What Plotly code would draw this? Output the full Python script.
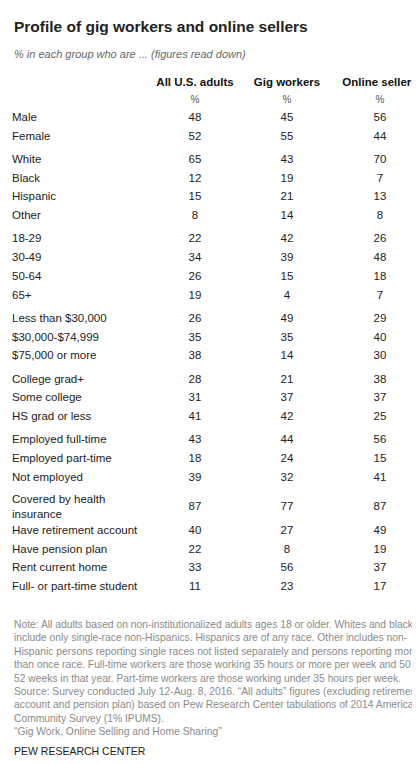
import plotly.graph_objects as go

labels = ["Male", "Female", "White", "Black", "Hispanic", "Other", "18-29", "30-49", "50-64", "65+",
          "Less than $30,000", "$30,000-$74,999", "$75,000 or more",
          "College grad+", "Some college", "HS grad or less",
          "Employed full-time", "Employed part-time", "Not employed",
          "Covered by health<br>insurance", "Have retirement account", "Have pension plan",
          "Rent current home", "Full- or part-time student"]
groups = [0, 0, 1, 1, 1, 1, 2, 2, 2, 2, 3, 3, 3, 4, 4, 4, 5, 5, 5, 6, 6, 6, 6, 6]
all_adults = [48, 52, 65, 12, 15, 8, 22, 34, 26, 19, 26, 35, 38, 28, 31, 41, 43, 18, 39, 87, 40, 22, 33, 11]
gig_workers = [45, 55, 43, 19, 21, 14, 42, 39, 15, 4, 49, 35, 14, 21, 37, 42, 44, 24, 32, 77, 27, 8, 56, 23]
online_sellers = [56, 44, 70, 7, 13, 8, 26, 48, 18, 7, 29, 40, 30, 38, 37, 25, 56, 15, 41, 87, 49, 19, 37, 17]
columns = ["All U.S. adults", "Gig workers", "Online sellers"]

FONT = "Liberation Sans, Arial, sans-serif"
# row layout
ys = []
y = 110.0
for i, g in enumerate(groups):
    if i > 0:
        y += 18.75
        if g != groups[i - 1]:
            y += 4.5
    if "<br>" in labels[i]:
        y += 6
    ys.append(y)
    if "<br>" in labels[i]:
        y += 5

col_x = [187, 279, 372]
fig = go.Figure()
fig.add_trace(go.Scatter(x=[4] * len(labels), y=ys, mode="text", text=labels, textposition="middle right",
                         textfont=dict(family=FONT, size=11.5, color="#222"), hoverinfo="skip", cliponaxis=False))
for cx, vals in zip(col_x, [all_adults, gig_workers, online_sellers]):
    fig.add_trace(go.Scatter(x=[cx] * len(vals), y=ys, mode="text", text=[str(v) for v in vals],
                             textposition="middle center", textfont=dict(family=FONT, size=11.5, color="#222"),
                             hoverinfo="skip", cliponaxis=False))
fig.add_trace(go.Scatter(x=col_x, y=[75] * 3, mode="text", text=["<b>%s</b>" % c for c in columns],
                         textposition="middle center", textfont=dict(family=FONT, size=11.5, color="#111"),
                         hoverinfo="skip", cliponaxis=False))
fig.add_trace(go.Scatter(x=col_x, y=[92] * 3, mode="text", text=["%"] * 3,
                         textposition="middle center", textfont=dict(family=FONT, size=10, color="#555"),
                         hoverinfo="skip", cliponaxis=False))

note = ("Note: All adults based on non-institutionalized adults ages 18 or older. Whites and blacks<br>"
        "include only single-race non-Hispanics. Hispanics are of any race. Other includes non-<br>"
        "Hispanic persons reporting single races not listed separately and persons reporting more<br>"
        "than once race. Full-time workers are those working 35 hours or more per week and 50 to<br>"
        "52 weeks in that year. Part-time workers are those working under 35 hours per week.<br>"
        "Source: Survey conducted July 12-Aug. 8, 2016. “All adults” figures (excluding retirement<br>"
        "account and pension plan) based on Pew Research Center tabulations of 2014 American<br>"
        "Community Survey (1% IPUMS).<br>"
        "“Gig Work, Online Selling and Home Sharing”")
ann = [
    dict(x=4, y=8, text="<b>Profile of gig workers and online sellers</b>", font=dict(family=FONT, size=15.5, color="#222")),
    dict(x=4, y=38, text="<i>% in each group who are ... (figures read down)</i>", font=dict(family=FONT, size=11, color="#666")),
    dict(x=4, y=609, text=note, font=dict(family=FONT, size=10.3, color="#8a8a8a")),
    dict(x=4, y=735, text="PEW RESEARCH CENTER", font=dict(family=FONT, size=10.5, color="#222")),
]
for a in ann:
    a.update(xref="x", yref="y", xanchor="left", yanchor="top", showarrow=False, align="left")
fig.update_layout(
    width=420, height=764, margin=dict(l=0, r=0, t=0, b=0), showlegend=False,
    plot_bgcolor="white", paper_bgcolor="white", annotations=ann,
    xaxis=dict(range=[0, 420], visible=False, fixedrange=True),
    yaxis=dict(range=[764, 0], visible=False, fixedrange=True),
    shapes=[dict(type="line", xref="x", yref="y", x0=0, x1=420, y0=762, y1=762, line=dict(color="#222", width=1.2))],
)
fig.write_html("out.html")
